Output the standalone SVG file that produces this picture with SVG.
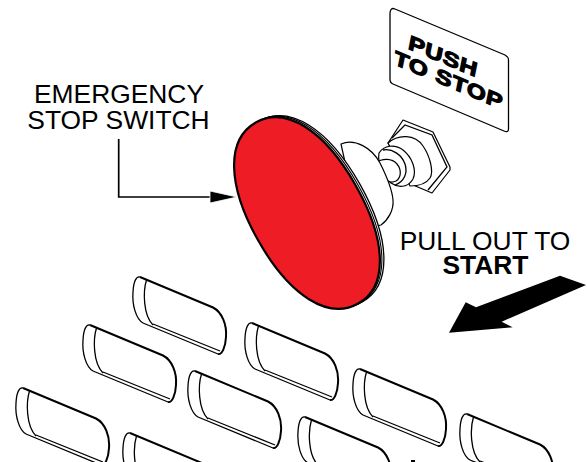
<svg xmlns="http://www.w3.org/2000/svg" xmlns:xlink="http://www.w3.org/1999/xlink" width="587" height="462" viewBox="0 0 587 462">
<style>
.l{font-family:"Liberation Sans",Arial,sans-serif;font-size:26.400px;fill:#000;text-anchor:middle}
.p{font-family:"Liberation Sans",Arial,sans-serif;font-weight:700;font-size:19.500px;fill:#000;stroke:#000;stroke-width:1.100}
.t{fill:#fff;stroke:#000;stroke-width:1.200;stroke-linejoin:round}
.k{fill:none;stroke:#000;stroke-width:1.300}
.h{fill:none;stroke:#000;stroke-width:2}
</style>
<defs>
<g id="key">
<path d="M0,0 L73,30.500 C82,35 87,48 86,60 C85.500,70 82,78 78,77 L3,46 C-4,42 -8,28 -7,15 C-6.500,5 -4,-1 0,0Z" fill="#fff" stroke="none"/>
<path class="k" d="M3,46 C-4,42 -8,28 -7,15 C-6.500,5 -4,-1 0,0"/>
<path class="k" d="M6.500,3 C3,14 3,38 13,48"/>
<path class="k" d="M3,46 L78,77 M13,47 L80,74"/>
<path class="h" d="M0,0 L73,30.500 C82,35 87,48 86,60 C85.500,70 82,78 78,77"/>
</g>
<path id="knob" d="M0,-104 C34,-104 56,-64 56,0 C56,64 34,104 0,104 C-34,104 -56,64 -56,0 C-56,-64 -34,-104 0,-104Z"/>
</defs>
<rect width="587" height="462" fill="#fff"/>
<g id="keys">
<use xlink:href="#key" href="#key" x="140" y="277"/>
<use xlink:href="#key" href="#key" x="90" y="325"/>
<use xlink:href="#key" href="#key" x="23" y="388"/>
<use xlink:href="#key" href="#key" x="252" y="323"/>
<use xlink:href="#key" href="#key" x="195" y="371"/>
<use xlink:href="#key" href="#key" x="130" y="433"/>
<use xlink:href="#key" href="#key" x="360" y="369"/>
<use xlink:href="#key" href="#key" x="305" y="417"/>
<use xlink:href="#key" href="#key" x="467" y="414"/>
<path d="M411,461 H415" stroke="#000" stroke-width="2"/>
</g>
<g id="plate">
<path d="M395,9 L505,55 Q508.500,57 508.500,60 L508.500,129 Q508.500,133 504,131 L393,84 Q390,83 390,79 L390,13 Q390.500,7 395,9Z" fill="#fff" stroke="#000" stroke-width="1.300"/>
<text class="p" transform="matrix(1.220 .512 -.2 1 407.500 48.500)" letter-spacing=".6">PUSH</text>
<text class="p" transform="matrix(1.220 .512 -.2 1 393 64)" letter-spacing=".6">TO STOP</text>
</g>
<g id="nut">
<path class="t" d="M403,120 L433,132 L450,167 L450,170 L432,193 L413,185 L388,143Z"/>
<path class="k" d="M392,138 L405,125 L432,135 L447,167 L428,190"/>
<path class="t" d="M388,143 C398,134 415,134 423,146 C430,156 434,172 430,178 C426,184 418,186 410,186Z"/>
<path class="t" d="M379,153 C384,145 395,144 403,150 C412,157 417,170 413,179 C408,188 398,188 391,183 C384,178 377,165 379,153Z"/>
<path class="k" d="M383,150 C392,148 402,155 405,164 C408,173 404,182 395,185"/>
<path class="t" d="M376,163 C382,158 392,158 397,164 C402,170 401,178 396,181 C392,183 388,182 385,178Z"/>
</g>
<g id="stop-button">
<path class="t" stroke-width="1.500" d="M341,144 C355,138 372,148 380,163 C386,175 392,188 393,200 C394,210 388,220 381,225 L360,230Z"/>
<use xlink:href="#knob" href="#knob" transform="translate(311 211.500) rotate(-29.500)" fill="#fff" stroke="#000" stroke-width="1.300"/>
<use xlink:href="#knob" href="#knob" transform="translate(309 212) rotate(-29.500)" fill="#fff" stroke="#000" stroke-width="1.100"/>
<use xlink:href="#knob" href="#knob" transform="translate(307 213) rotate(-29.500)" fill="#ee1c25" stroke="#000" stroke-width="2.200"/>
</g>
<g id="connectors">
<path d="M118.700,139 V197 H214" fill="none" stroke="#000" stroke-width="1.700"/>
<path d="M237,197 L210,191 V203Z" fill="#000" stroke="#fff" stroke-width=".8"/>
<path id="pull-arrow" d="M560,275.700 L586,285 L501.700,321.700 L512.700,327.300 L449,332.700 L465.700,302.300 L476,307.300Z" fill="#000"/>
</g>
<g id="labels">
<text class="l" x="119" y="103.300">EMERGENCY</text>
<text class="l" x="118.500" y="129.300">STOP SWITCH</text>
<text class="l" x="485" y="250">PULL OUT TO</text>
<text class="l" x="485.500" y="274" font-weight="700">START</text>
</g>
</svg>
